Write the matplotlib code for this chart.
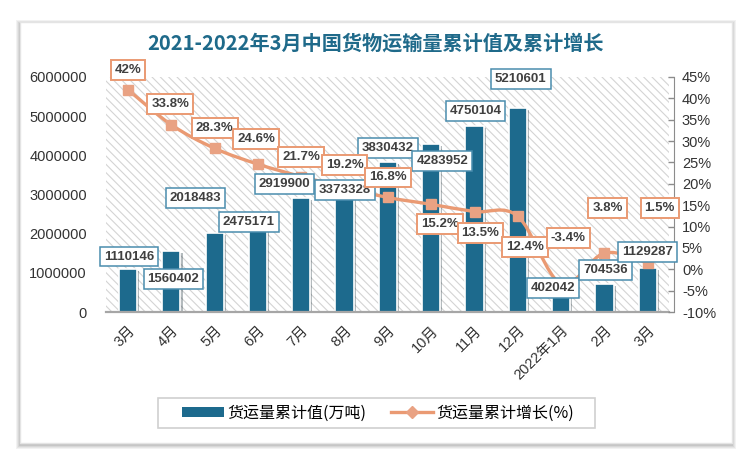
import matplotlib
matplotlib.use("Agg")
import matplotlib.pyplot as plt
import matplotlib.patheffects as pe
from matplotlib.patches import Rectangle, FancyBboxPatch
from matplotlib.path import Path
from matplotlib.patches import PathPatch
from matplotlib.lines import Line2D
import numpy as np

plt.rcParams['font.family'] = ['Liberation Sans', 'Noto Sans CJK SC', 'DejaVu Sans']
plt.rcParams['hatch.linewidth'] = 0.8
plt.rcParams['hatch.color'] = '#D4D4D4'

# data
months = ['3月', '4月', '5月', '6月', '7月', '8月', '9月', '10月', '11月', '12月',
          '2022年1月', '2月', '3月']
volume = [1110146, 1560402, 2018483, 2475171, 2919900, 3373328, 3830432, 4283952,
          4750104, 5210601, 402042, 704536, 1129287]
growth = [42, 33.8, 28.3, 24.6, 21.7, 19.2, 16.8, 15.2, 13.5, 12.4, -3.4, 3.8, 1.5]

# label offsets in pixels (dx, dy) relative to the bar top / line point
bar_off = [(1, 12), (2, -28), (-19, 35), (-9, -7), (-17, 14), (0, -10), (0, 14),
           (11, -17), (1, 15), (3, 29), (-8, 8), (1, 14), (0, 16)]
pct_off = [(0, 20), (-1, 21), (0, 20), (-2, 25), (0, 20), (0, 22), (0, 20),
           (9, -20), (6, -21), (7, -31), (7, 46), (3, 45), (12, 55)]

BAR = '#1D6A8D'
LINE = '#EA9A73'
MARK = '#E9A283'
TXT = '#404040'

fig = plt.figure(figsize=(7.5, 4.61), dpi=100)
fig.patch.set_facecolor('white')

# card with soft shadow
for i, a in enumerate([0.05, 0.05, 0.06, 0.08]):
    g = 4 - i
    fig.patches.append(FancyBboxPatch((20 / 750 - g / 750, 1 - 443 / 461 - (g + 2) / 461),
                                      712 / 750 + 2 * g / 750, 421 / 461 + 2 * g / 461,
                                      boxstyle='square,pad=0', transform=fig.transFigure,
                                      facecolor='black', edgecolor='none', alpha=a, zorder=0))
fig.patches.append(FancyBboxPatch((20 / 750, 1 - 443 / 461), 712 / 750, 421 / 461,
                                  boxstyle='square,pad=0', transform=fig.transFigure,
                                  facecolor='white', edgecolor='#E4E4E4', lw=1, zorder=1))
# legend frame
fig.patches.append(FancyBboxPatch((158 / 750, 1 - 428 / 461), 437 / 750, 30 / 461,
                                  boxstyle='square,pad=0', transform=fig.transFigure,
                                  facecolor='white', edgecolor='#D0D0D0', lw=1.2, zorder=2))

ax = fig.add_axes([106.4 / 750, 1 - 312 / 461, 563 / 750, 235 / 461])
ax.set_zorder(2)
ax.set_facecolor('white')
ax.add_patch(Rectangle((0, 0), 1, 1, transform=ax.transAxes, facecolor='white',
                       hatch='\\\\\\\\', edgecolor='#D4D4D4', lw=0, zorder=0))

x = np.arange(len(months))
bars = ax.bar(x, volume, width=0.42, color=BAR, edgecolor='white', linewidth=1.2, zorder=2)
for b in bars:
    b.set_path_effects([pe.SimplePatchShadow(offset=(1.5, -1.5), alpha=0.3), pe.Normal()])

ax.set_xlim(-0.5, len(months) - 0.5)
ax.set_ylim(0, 6000000)
ax.set_yticks(range(0, 6000001, 1000000))
ax.set_yticklabels([str(v) for v in range(0, 6000001, 1000000)])
ax.tick_params(axis='y', length=0, pad=14, labelsize=10.5, labelcolor='#333333')
ax.set_xticks(x)
ax.set_xticklabels(months, rotation=45, ha='right', rotation_mode='anchor')
ax.tick_params(axis='x', length=0, pad=8, labelsize=10.5, labelcolor='#333333')
for s in ['top', 'left', 'right']:
    ax.spines[s].set_visible(False)
ax.spines['bottom'].set_color('#A6A6A6')
ax.spines['bottom'].set_linewidth(1.6)

ax2 = ax.twinx()
ax2.set_ylim(-10, 45)
ax2.set_yticks(range(-10, 46, 5))
ax2.set_yticklabels([f'{v}%' for v in range(-10, 46, 5)])
ax2.tick_params(axis='y', direction='in', length=4, width=1, color='#8C8C8C',
                labelsize=10.5, labelcolor='#333333', pad=6)
for s in ['top', 'left', 'bottom']:
    ax2.spines[s].set_visible(False)
ax2.spines['right'].set_color('#8C8C8C')
ax2.spines['right'].set_position(('outward', 3))

# smoothed line through the points (Catmull-Rom as Bezier)
pts = np.column_stack([x, growth]).astype(float)
verts = [pts[0]]
codes = [Path.MOVETO]
n = len(pts)
for i in range(n - 1):
    p0 = pts[max(i - 1, 0)]
    p1 = pts[i]
    p2 = pts[i + 1]
    p3 = pts[min(i + 2, n - 1)]
    verts += [p1 + (p2 - p0) / 6, p2 - (p3 - p1) / 6, p2]
    codes += [Path.CURVE4] * 3
ax2.add_patch(PathPatch(Path(verts, codes), facecolor='none', edgecolor=LINE, lw=2.4,
                        capstyle='round', zorder=3))
ax2.plot(x, growth, ls='none', marker='s', ms=7, color=MARK, mec=MARK, zorder=4)

# data labels
for i, v in enumerate(volume):
    ax2.annotate(str(v), xy=(x[i], v), xycoords=ax.transData,
                 xytext=bar_off[i], textcoords='offset pixels', ha='center', va='center',
                 fontsize=9.5, fontweight='bold', color=TXT, zorder=6,
                 bbox=dict(boxstyle='square,pad=0.3', facecolor='white',
                           edgecolor='#4A8DAE', lw=1.1))
for i, v in enumerate(growth):
    ax2.annotate(f'{v:g}%', xy=(x[i], v), xycoords='data',
                 xytext=pct_off[i], textcoords='offset pixels', ha='center', va='center',
                 fontsize=9.5, fontweight='bold', color=TXT, zorder=6,
                 bbox=dict(boxstyle='square,pad=0.3', facecolor='white',
                           edgecolor=LINE, lw=1.4))

fig.text(376 / 750, 1 - 43 / 461, '2021-2022年3月中国货物运输量累计值及累计增长',
         ha='center', va='center', fontsize=14.5, fontweight='bold', color='#1F6A8A',
         family=['Noto Sans CJK SC'], zorder=5)

handles = [Rectangle((0, 0), 1, 1, facecolor=BAR, edgecolor='none'),
           Line2D([], [], color=LINE, lw=2.4, marker='D', ms=6, mfc=MARK, mec=MARK)]
leg = fig.legend(handles, ['货运量累计值(万吨)', '货运量累计增长(%)'],
                 loc='center', bbox_to_anchor=(378 / 750, 1 - 413 / 461), ncol=2,
                 frameon=False, handlelength=2.6, handleheight=0.55,
                 columnspacing=1.6, handletextpad=0.2,
                 prop={'family': ['Noto Sans CJK SC'], 'size': 11.5})
leg.set_zorder(5)

fig.savefig('out.png', dpi=100, facecolor='white')
